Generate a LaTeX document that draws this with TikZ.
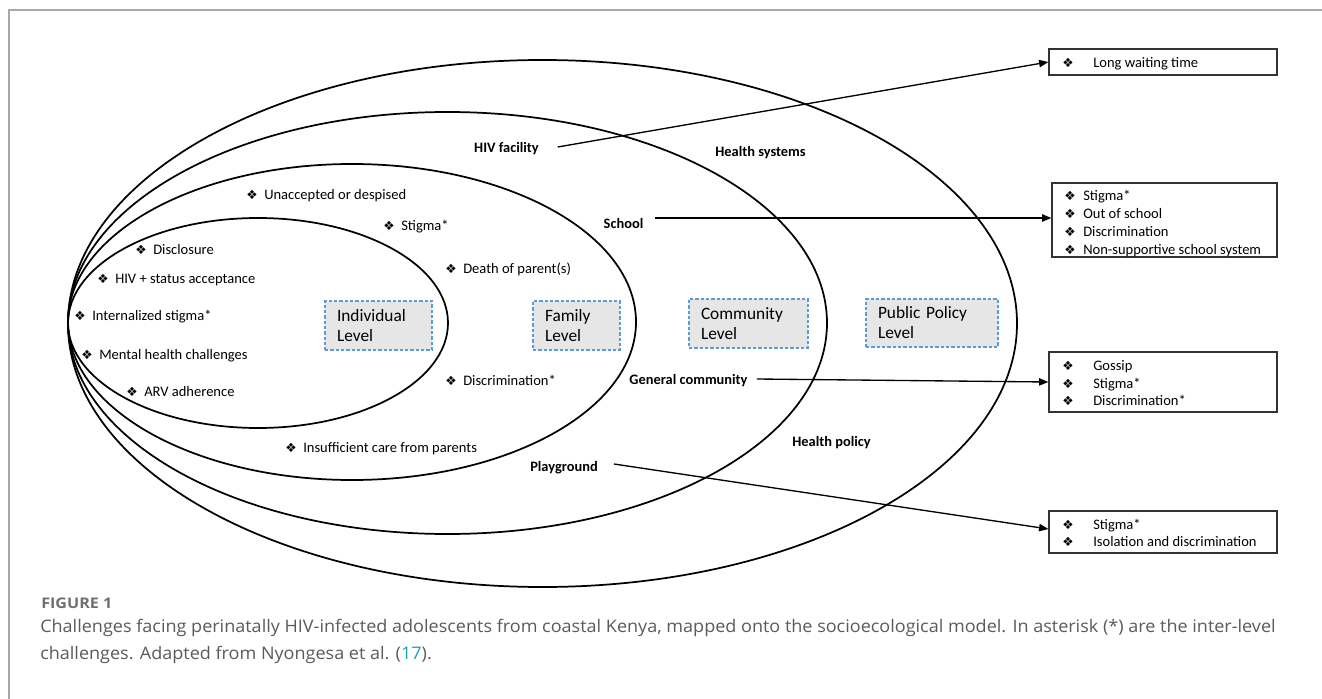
\documentclass[tikz,border=0pt]{standalone}
\usepackage{fontspec}
\setmainfont{Carlito}
\newfontfamily\dingfont{DejaVu Sans}
\newfontfamily\capfont[FakeStretch=1.04]{Open Sans}
\newfontfamily\figfont[FakeStretch=1.1]{Open Sans}
\usetikzlibrary{arrows.meta}
\definecolor{boxfill}{HTML}{E7E6E6}
\definecolor{boxdash}{HTML}{5B9BD5}
\definecolor{capgray}{HTML}{5A5A5A}
\definecolor{figgray}{HTML}{707070}
\definecolor{reflink}{HTML}{1BA1B5}
\definecolor{framegray}{HTML}{A8A8A8}
\newcommand{\bul}{{\dingfont\fontsize{9.5pt}{9.5pt}\selectfont ❖}}
\newcommand{\ecell}[1]{\makebox[13.5pt][l]{\bul}#1}
\newcommand{\bcell}[1]{\makebox[23.25pt][l]{\bul}#1}
\newcommand{\scell}[1]{\makebox[14.25pt][l]{\bul}#1}
\begin{document}
\begin{tikzpicture}[x=0.75pt,y=-0.75pt,
  ring/.style={line width=1.3pt},
  levelbox/.style={draw=boxdash, fill=boxfill, dash pattern=on 2.5pt off 1.5pt, line width=0.8pt,
    inner xsep=9pt, inner ysep=0pt, align=left, font=\fontsize{13}{15}\selectfont},
  item/.style={anchor=west, inner sep=0pt, font=\fontsize{10.9}{13}\selectfont, text height=7.5pt, text depth=2pt},
  lbl/.style={font=\bfseries\fontsize{10.8}{13}\selectfont, inner sep=0pt},
  listbox/.style={draw=black!80, line width=0.9pt, inner sep=0pt},
  arr/.style={line width=1pt, -{Triangle[length=7pt,width=5.5pt]}},
  captxt/.style={anchor=west, inner sep=0pt, text=capgray}
]
\useasboundingbox (0,0) rectangle (1322,699);
% frame
\draw[framegray, line width=1.5pt] (9,699) -- (9,10) -- (1322,10);
% socioecological rings
\draw[ring] (542.5,323.5) ellipse [x radius=474.5, y radius=263.5];
\draw[ring] (447.5,323) ellipse [x radius=379.5, y radius=211];
\draw[ring] (352,322) ellipse [x radius=284, y radius=158];
\draw[ring] (258,323) ellipse [x radius=190, y radius=105];
% level boxes
\node[levelbox, minimum width=80.25pt, minimum height=36.75pt, text width=62.25pt] (indiv) at (378.5,325.5) {Individual\\Level};
\node[levelbox, minimum width=65.25pt, minimum height=36.75pt, text width=47.25pt] (family) at (576.5,325.5) {Family\\Level};
\node[levelbox, minimum width=89.25pt, minimum height=36.75pt, text width=71.25pt] (commun) at (748.5,323.5) {Community\\Level};
\node[levelbox, minimum width=99pt, minimum height=36pt, text width=81pt] (policy) at (932,323) {Public Policy\\Level};
% individual / family items
\node[item] (i1) at (246,196) {\ecell{Unaccepted or despised}};
\node[item] (i2) at (383,227) {\ecell{Stigma*}};
\node[item] (i3) at (135,251) {\ecell{Disclosure}};
\node[item] (i4) at (97,280) {\ecell{HIV + status acceptance}};
\node[item] (i5) at (74,317) {\ecell{Internalized stigma*}};
\node[item] (i6) at (81,356) {\ecell{Mental health challenges}};
\node[item] (i7) at (126,393) {\ecell{ARV adherence}};
\node[item] (i8) at (445,270) {\ecell{Death of parent(s)}};
\node[item] (i9) at (445,382) {\ecell{Discrimination*}};
\node[item] (i10) at (285,449) {\ecell{Insufficient care from parents}};
% setting labels
\node[lbl] (hiv) at (506.5,149) {HIV facility};
\node[lbl] (hsys) at (760.5,153) {Health systems};
\node[lbl] (school) at (623.5,223) {School};
\node[lbl] (gencom) at (688.5,381) {General community};
\node[lbl] (play) at (564,468) {Playground};
\node[lbl] (hpol) at (831.5,443) {Health policy};
% right boxes
\node[listbox, minimum width=171pt, minimum height=19.5pt] (b1) at (1163,62) {};
\node[listbox, minimum width=168.75pt, minimum height=55.5pt] (b2) at (1164.5,220) {};
\node[listbox, minimum width=171pt, minimum height=45pt] (b3) at (1163,382) {};
\node[listbox, minimum width=171pt, minimum height=31.5pt] (b4) at (1163,532) {};
\node[item] (b1a) at (1062,64) {\bcell{Long waiting time}};
\node[item] (b2a) at (1064,197) {\scell{Stigma*}};
\node[item] (b2b) at (1064,215) {\scell{Out of school}};
\node[item] (b2c) at (1064,233) {\scell{Discrimination}};
\node[item] (b2d) at (1064,251) {\scell{Non-supportive school system}};
\node[item] (b3a) at (1062,367) {\bcell{Gossip}};
\node[item] (b3b) at (1062,385) {\bcell{Stigma*}};
\node[item] (b3c) at (1062,402) {\bcell{Discrimination*}};
\node[item] (b4a) at (1062,526) {\bcell{Stigma*}};
\node[item] (b4b) at (1062,543) {\bcell{Isolation and discrimination}};
% connectors
\draw[arr] ([xshift=14pt,yshift=1.5pt]hiv.east) -- (b1.west);
\draw[arr] ([xshift=8.25pt,yshift=3.75pt]school.east) -- ([yshift=1.5pt]b2.west);
\draw[arr] ([xshift=6.75pt,yshift=1.5pt]gencom.east) -- (b3.west);
\draw[arr] ([xshift=12pt,yshift=3pt]play.east) -- ([yshift=2.25pt]b4.west);
% caption
\node[captxt, text=figgray, font=\figfont\bfseries\fontsize{11}{12}\selectfont] (fig) at (41,603) {FIGURE 1};
\node[captxt, font=\capfont\fontsize{13}{15}\selectfont] (cap1) at (40,628) {Challenges facing perinatally HIV-infected adolescents from coastal Kenya, mapped onto the socioecological model. In asterisk (*) are the inter-level};
\node[captxt, font=\capfont\fontsize{13}{15}\selectfont] (cap2) at (40,655) {challenges. Adapted from Nyongesa et al. ({\color{reflink}17}).};
\end{tikzpicture}
\end{document}
